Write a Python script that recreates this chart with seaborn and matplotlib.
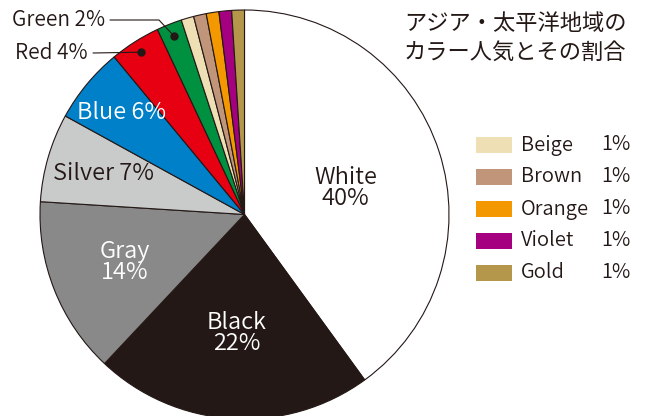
import numpy as np
import matplotlib
matplotlib.use("Agg")
import matplotlib.pyplot as plt
import seaborn as sns

sns.set_theme(style="white")
plt.rcParams['font.family'] = ['Noto Sans CJK JP', 'DejaVu Sans']

# ----------------------------------------------------------
# Data: share of car colours, Asia-Pacific
# ----------------------------------------------------------
colour_names = ["White", "Black", "Gray", "Silver", "Blue", "Red", "Green",
                "Beige", "Brown", "Orange", "Violet", "Gold"]
shares = [40, 22, 14, 7, 6, 4, 2, 1, 1, 1, 1, 1]
legend_names = ["Beige", "Brown", "Orange", "Violet", "Gold"]
legend_shares = [1, 1, 1, 1, 1]
title_text = "アジア・太平洋地域の\nカラー人気とその割合"

palette = {
    "White": "#ffffff", "Black": "#231815", "Gray": "#898989",
    "Silver": "#c9caca", "Blue": "#0080c8", "Red": "#e60012",
    "Green": "#009140", "Beige": "#efdfb4", "Brown": "#c0957a",
    "Orange": "#f39800", "Violet": "#a40080", "Gold": "#b4974b",
}
ink = "#231815"
wt = 350

W, H = 649, 416
fig = plt.figure(figsize=(W / 100, H / 100), dpi=100)
ax = fig.add_axes([0, 0, 1, 1])

cx, cy, R = 244.5, H - 214.5, 204.5
wedges, _ = ax.pie(shares, colors=[palette[n] for n in colour_names],
                   startangle=90, counterclock=False, center=(cx, cy), radius=R,
                   wedgeprops=dict(edgecolor=ink, linewidth=0.8))
ax.set_xlim(0, W)
ax.set_ylim(0, H)
ax.set_aspect("auto")
ax.axis("off")


def mid_point(w, frac):
    a = np.deg2rad((w.theta1 + w.theta2) / 2)
    return cx + frac * R * np.cos(a), cy + frac * R * np.sin(a)


# labels inside the big wedges
inside = {"White": (0.52, ink, True), "Black": (0.58, "white", True),
          "Gray": (0.63, "white", True), "Silver": (0.72, ink, False),
          "Blue": (0.78, "white", False)}
for w, name, val in zip(wedges, colour_names, shares):
    if name in inside:
        frac, col, two_lines = inside[name]
        x, y = mid_point(w, frac)
        if name == "White":
            y -= 6
        sep = "\n" if two_lines else " "
        ax.text(x, y, f"{name}{sep}{val}%", ha="center", va="center",
                color=col, fontsize=17, linespacing=0.9, fontweight=wt)

# outside labels with leader lines
for name, txt_y, bend_x in [("Red", H - 53, None), ("Green", H - 20, 159)]:
    i = colour_names.index(name)
    dx, dy = mid_point(wedges[i], 0.94)
    ax.plot(dx, dy, "o", color=ink, markersize=5)
    if bend_x is None:
        ax.plot([93, dx], [txt_y, dy], color=ink, lw=0.8)
        tx = 88
    else:
        ax.plot([110, bend_x, dx], [txt_y, txt_y, dy], color=ink, lw=0.8)
        tx = 105
    ax.text(tx, txt_y, f"{name} {shares[i]}%", ha="right", va="center",
            color=ink, fontsize=15, fontweight=wt)

# legend for the 1% slices
for k, (name, val) in enumerate(zip(legend_names, legend_shares)):
    yc = H - (145 + 32 * k)
    ax.add_patch(plt.Rectangle((476, yc - 8), 36, 16, color=palette[name], lw=0))
    ax.text(521, yc, name, ha="left", va="center", color=ink, fontsize=14.5,
            fontweight=wt)
    ax.text(601, yc, f"{val}%", ha="left", va="center", color=ink, fontsize=14.5,
            fontweight=wt)

ax.text(404, H - 12, title_text, ha="left", va="top", color=ink,
        fontsize=16, linespacing=1.3)

fig.savefig("out.png", dpi=100)
